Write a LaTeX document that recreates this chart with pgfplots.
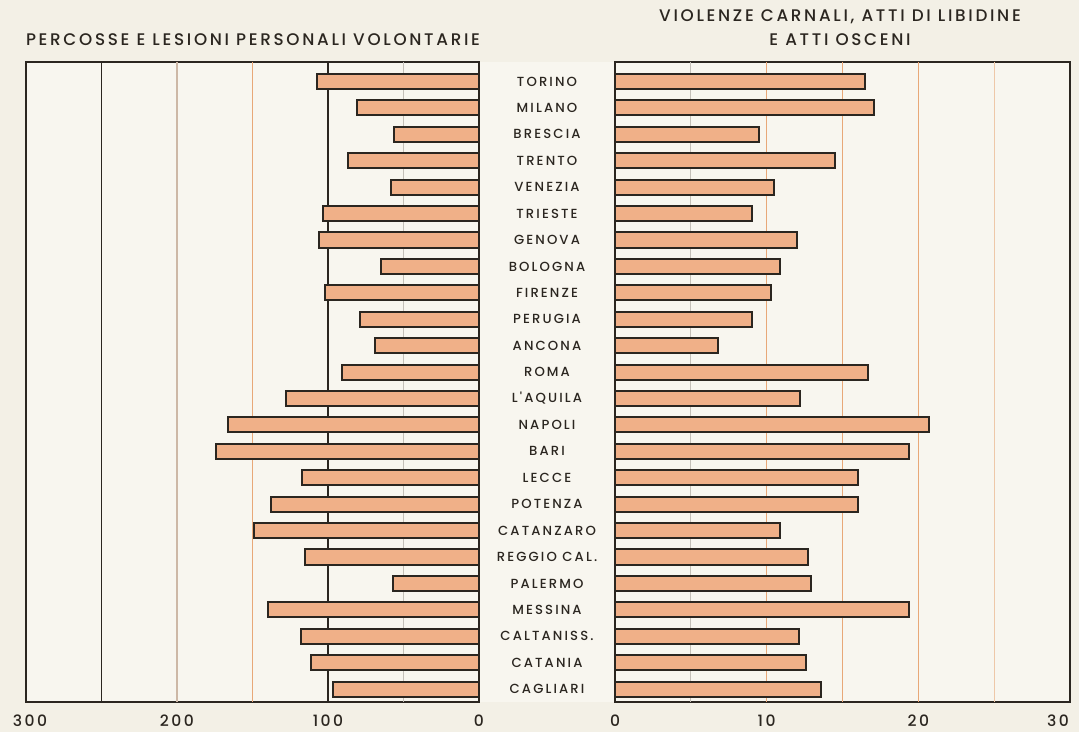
\documentclass[border=0pt]{standalone}
\usepackage{fontspec}
\setmainfont{Poppins}
\newfontfamily\lab[LetterSpace=16, UprightFont={* Medium}]{Poppins}
\usepackage{pgfplots}
\pgfplotsset{compat=1.18}
\usepackage{pgfplotstable}

\definecolor{paper}{HTML}{F3F0E6}
\definecolor{inner}{HTML}{F8F6EF}
\definecolor{barfill}{HTML}{F0B088}
\definecolor{ink}{HTML}{2B2620}
\definecolor{gorange}{HTML}{E8A878}
\definecolor{glight}{HTML}{EEC8A8}
\definecolor{gbrown}{HTML}{CDB8A6}
\definecolor{ggray}{HTML}{C4C0B8}

\pgfplotstableread{
idx left right
0  107 16.5
1  81  17.1
2  56  9.5
3  87  14.5
4  58  10.5
5  103 9.0
6  106 12.0
7  65  10.9
8  102 10.3
9  79  9.0
10 69  6.8
11 91  16.7
12 128 12.2
13 166 20.7
14 174 19.4
15 117 16.0
16 138 16.0
17 149 10.9
18 115 12.7
19 57  12.9
20 140 19.4
21 118 12.1
22 111 12.6
23 97  13.6
}\data

\begin{document}
\begin{tikzpicture}
\useasboundingbox (0,0) rectangle (539.5pt,366pt);
\fill[paper] (0,0) rectangle (539.5pt,366pt);
\fill[inner] (239.5pt,15pt) rectangle (307.5pt,335pt);

\begin{axis}[
  at={(13pt,15pt)}, anchor=south west, scale only axis,
  width=226.5pt, height=320pt,
  xmin=0, xmax=300, x dir=reverse,
  ymin=-0.74, ymax=23.49, y dir=reverse,
  xtick={0,100,200,300}, ytick=\empty,
  xticklabels={0,100,200,{300\hspace*{-4pt}}},
  major tick length=0pt,
  axis line style={ink, line width=1pt},
  axis background/.style={fill=inner},
  xbar, bar width=0.57,
  /pgf/number format/assume math mode=true,
  xticklabel style={font=\lab\fontsize{7.8}{9}\selectfont, text=ink, yshift=-3pt},
]
\draw[ink, line width=0.6pt] (axis cs:250,-0.74) -- (axis cs:250,23.49);
\draw[gbrown, line width=0.6pt] (axis cs:200,-0.74) -- (axis cs:200,23.49);
\draw[gorange, line width=0.7pt] (axis cs:150,-0.74) -- (axis cs:150,23.49);
\draw[ink, line width=0.6pt] (axis cs:100,-0.74) -- (axis cs:100,23.49);
\draw[ggray, line width=0.5pt] (axis cs:50,-0.74) -- (axis cs:50,23.49);
\addplot[fill=barfill, draw=ink, line width=1pt] table[x=left, y=idx] {\data};
\end{axis}

\begin{axis}[
  at={(307.5pt,15pt)}, anchor=south west, scale only axis,
  width=227.5pt, height=320pt,
  xmin=0, xmax=30,
  ymin=-0.74, ymax=23.49, y dir=reverse,
  xtick={0,10,20,30}, ytick={0,...,23},
  xticklabels={0,10,20,{\hspace*{-12pt}30}},
  yticklabels={TORINO,MILANO,BRESCIA,TRENTO,VENEZIA,TRIESTE,GENOVA,BOLOGNA,FIRENZE,PERUGIA,ANCONA,ROMA,L'AQUILA,NAPOLI,BARI,LECCE,POTENZA,CATANZARO,REGGIO CAL.,PALERMO,MESSINA,CALTANISS.,CATANIA,CAGLIARI},
  major tick length=0pt,
  axis line style={ink, line width=1pt},
  axis background/.style={fill=inner},
  xbar, bar width=0.57,
  /pgf/number format/assume math mode=true,
  xticklabel style={font=\lab\fontsize{7.8}{9}\selectfont, text=ink, yshift=-3pt},
  yticklabel style={font=\lab\fontsize{6.6}{7}\selectfont, text=ink, anchor=center, xshift=-34pt},
]
\draw[ggray, line width=0.5pt] (axis cs:5,-0.74) -- (axis cs:5,23.49);
\draw[gorange, line width=0.7pt] (axis cs:10,-0.74) -- (axis cs:10,23.49);
\draw[gorange, line width=0.5pt] (axis cs:15,-0.74) -- (axis cs:15,23.49);
\draw[gorange, line width=0.7pt] (axis cs:20,-0.74) -- (axis cs:20,23.49);
\draw[glight, line width=0.5pt] (axis cs:25,-0.74) -- (axis cs:25,23.49);
\addplot[fill=barfill, draw=ink, line width=1pt] table[x=right, y=idx] {\data};
\end{axis}

\node[font=\lab\fontsize{8.4}{9}\selectfont, text=ink] at (126.5pt,346pt) {PERCOSSE E LESIONI PERSONALI VOLONTARIE};
\node[font=\lab\fontsize{8.4}{9}\selectfont, text=ink] at (420pt,357.5pt) {VIOLENZE CARNALI, ATTI DI LIBIDINE};
\node[font=\lab\fontsize{8.4}{9}\selectfont, text=ink] at (420pt,346pt) {E ATTI OSCENI};
\end{tikzpicture}
\end{document}
